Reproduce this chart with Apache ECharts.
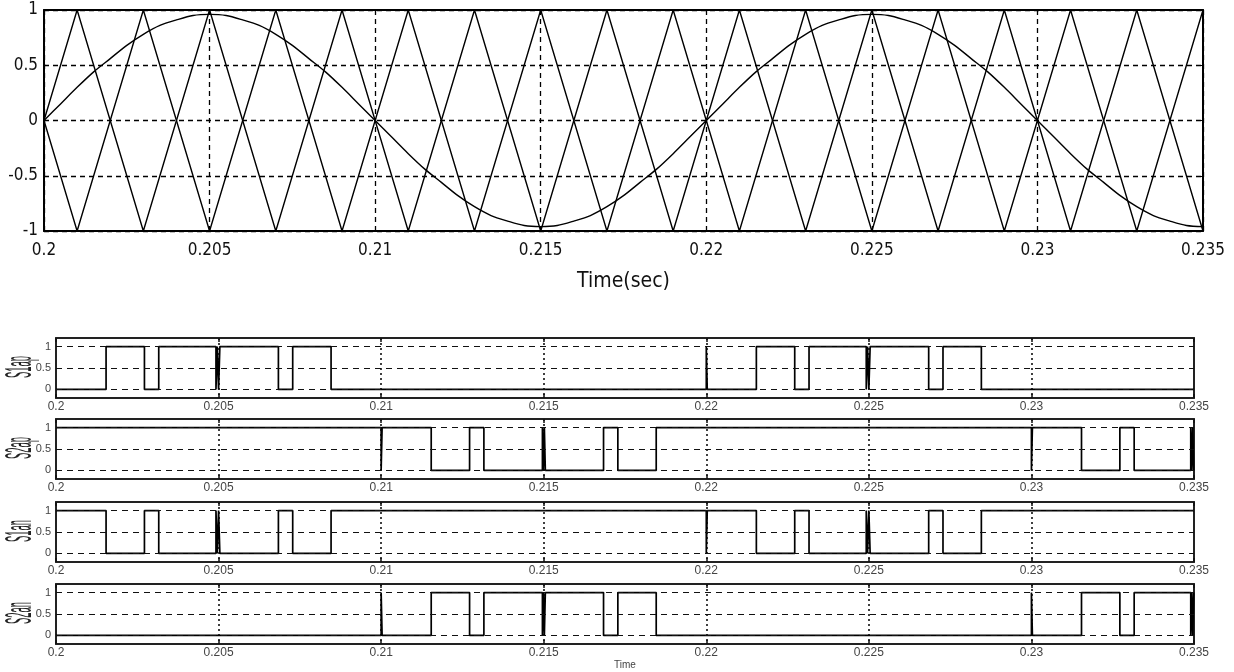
<!DOCTYPE html>
<html>
<head>
<meta charset="utf-8">
<script src="https://cdn.jsdelivr.net/npm/echarts@6/dist/echarts.min.js"></script>
<style>
html,body{margin:0;padding:0;background:#fff;}
#c{width:1234px;height:672px;}
</style>
</head>
<body>
<div id="c"></div>
<script>
// ---------- DATA ----------
// Top plot: carrier triangles (vertices) and reference sine
const triT = [0.200,0.201,0.203,0.205,0.207,0.209,0.211,0.213,0.215,0.217,0.219,0.221,0.223,0.225,0.227,0.229,0.231,0.233,0.235];
const triA = [0,1,-1,1,-1,1,-1,1,-1,1,-1,1,-1,1,-1,1,-1,1,-1];
const triB = [0,-1,1,-1,1,-1,1,-1,1,-1,1,-1,1,-1,1,-1,1,-1,1];

const sineT = [0.2000,0.2005,0.2010,0.2015,0.2020,0.2025,0.2030,0.2035,0.2040,0.2045,0.2050,0.2055,0.2060,0.2065,0.2070,0.2075,0.2080,0.2085,0.2090,0.2095,
  0.2100,0.2105,0.2110,0.2115,0.2120,0.2125,0.2130,0.2135,0.2140,0.2145,0.2150,0.2155,0.2160,0.2165,0.2170,0.2175,0.2180,0.2185,0.2190,0.2195,
  0.2200,0.2205,0.2210,0.2215,0.2220,0.2225,0.2230,0.2235,0.2240,0.2245,0.2250,0.2255,0.2260,0.2265,0.2270,0.2275,0.2280,0.2285,0.2290,0.2295,
  0.2300,0.2305,0.2310,0.2315,0.2320,0.2325,0.2330,0.2335,0.2340,0.2345,0.2350];
const sineV = [0,0.15,0.30,0.44,0.56,0.68,0.78,0.86,0.91,0.95,0.96,0.95,0.91,0.86,0.78,0.68,0.56,0.44,0.30,0.15,
  0,-0.15,-0.30,-0.44,-0.56,-0.68,-0.78,-0.86,-0.91,-0.95,-0.96,-0.95,-0.91,-0.86,-0.78,-0.68,-0.56,-0.44,-0.30,-0.15,
  0,0.15,0.30,0.44,0.56,0.68,0.78,0.86,0.91,0.95,0.96,0.95,0.91,0.86,0.78,0.68,0.56,0.44,0.30,0.15,
  0,-0.15,-0.30,-0.44,-0.56,-0.68,-0.78,-0.86,-0.91,-0.95,-0.96];

// Switching signals: switching instants and the level held from each instant
const s1apEdges = [0.2,0.20154,0.20272,0.20316,0.20492,0.20496,0.20500,0.20504,0.20508,0.20684,0.20728,0.20846,0.22000,0.22003,0.22154,0.22272,0.22316,0.22492,0.22496,0.22500,0.22504,0.22508,0.22684,0.22728,0.22846,0.235];
const s1apLevels= [0,1,0,1,0,1,0,1,1,0,1,0,1,0,1,0,1,0,1,0,1,1,0,1,0,0];

const s2apEdges = [0.2,0.21000,0.21003,0.21154,0.21272,0.21316,0.21496,0.21499,0.21502,0.21505,0.21684,0.21728,0.21846,0.23000,0.23003,0.23154,0.23272,0.23316,0.23490,0.23493,0.23496,0.23499,0.235];
const s2apLevels= [1,0,1,0,1,0,1,0,1,0,1,0,1,0,1,0,1,0,1,0,1,0,0];

const s1anEdges = [0.2,0.20154,0.20272,0.20316,0.20492,0.20496,0.20500,0.20504,0.20508,0.20684,0.20728,0.20846,0.22000,0.22003,0.22154,0.22272,0.22316,0.22492,0.22496,0.22500,0.22504,0.22508,0.22684,0.22728,0.22846,0.235];
const s1anLevels= [1,0,1,0,1,0,1,0,0,1,0,1,0,1,0,1,0,1,0,1,0,0,1,0,1,1];

const s2anEdges = [0.2,0.21000,0.21003,0.21154,0.21272,0.21316,0.21496,0.21499,0.21502,0.21505,0.21684,0.21728,0.21846,0.23000,0.23003,0.23154,0.23272,0.23316,0.23490,0.23493,0.23496,0.23499,0.235];
const s2anLevels= [0,1,0,1,0,1,0,1,0,1,0,1,0,1,0,1,0,1,0,1,0,1,1];

const panelNames = ['S1ap','S2ap','S1an','S2an'];
const gridLevels = [0, 0.5, 1];
const topXName = 'Time(sec)';
const bottomXName = 'Time';

// ---------- CHART ----------
const chart = echarts.init(document.getElementById('c'), null, {renderer:'canvas'});
const narrow = "'Liberation Sans Narrow','Arial Narrow','DejaVu Sans Condensed',sans-serif";
const sans = "'Liberation Sans',Arial,sans-serif";
const fmtX = v => String(+v.toFixed(3));
const fmtY = v => String(+v.toFixed(2));
const zip = (a,b) => a.map((x,i)=>[x,b[i]]);

const grids = [{left:44, right:31, top:10, height:221}];
const lowerTops = [338, 419, 502, 584];
lowerTops.forEach(t => grids.push({left:56, right:40, top:t, height:60}));

const xAxes = [], yAxes = [], series = [];
// top plot axes
xAxes.push({type:'value', gridIndex:0, min:0.2, max:0.235, interval:0.005,
  axisLine:{onZero:false, lineStyle:{color:'#000', width:2}},
  axisTick:{inside:true, length:5, lineStyle:{color:'#000'}},
  axisLabel:{formatter:fmtX, color:'#111', fontFamily:narrow, fontSize:17, margin:11},
  splitLine:{show:true, lineStyle:{color:'#000', type:[5,4], width:1.3}},
  name:topXName, nameLocation:'middle', nameGap:40,
  nameTextStyle:{fontFamily:narrow, fontSize:21, color:'#111'}});
xAxes.push({type:'value', gridIndex:0, position:'top', min:0.2, max:0.235, interval:0.005,
  axisLine:{onZero:false, lineStyle:{color:'#000', width:2}},
  axisTick:{inside:true, length:5, lineStyle:{color:'#000'}},
  axisLabel:{show:false}, splitLine:{show:false}});
yAxes.push({type:'value', gridIndex:0, min:-1, max:1, interval:0.5,
  axisLine:{show:true, onZero:false, lineStyle:{color:'#000', width:2}},
  axisTick:{show:true, inside:true, length:5, lineStyle:{color:'#000'}},
  axisLabel:{formatter:fmtY, color:'#111', fontFamily:narrow, fontSize:17, margin:6},
  splitLine:{show:true, lineStyle:{color:'#000', type:[5,4], width:1.3}}});
yAxes.push({type:'value', gridIndex:0, position:'right', min:-1, max:1, interval:0.5,
  axisLine:{show:true, onZero:false, lineStyle:{color:'#000', width:2}},
  axisTick:{show:true, inside:true, length:5, lineStyle:{color:'#000'}},
  axisLabel:{show:false}, splitLine:{show:false}});

const lineStyleTop = {color:'#000', width:1.4};
series.push({type:'line', xAxisIndex:0, yAxisIndex:0, data:zip(triT,triA), symbol:'none', lineStyle:lineStyleTop, silent:true, animation:false});
series.push({type:'line', xAxisIndex:0, yAxisIndex:0, data:zip(triT,triB), symbol:'none', lineStyle:lineStyleTop, silent:true, animation:false});
series.push({type:'line', xAxisIndex:0, yAxisIndex:0, data:zip(sineT,sineV), symbol:'none', smooth:0.3, lineStyle:lineStyleTop, silent:true, animation:false});

const sigs = [[s1apEdges,s1apLevels],[s2apEdges,s2apLevels],[s1anEdges,s1anLevels],[s2anEdges,s2anLevels]];
sigs.forEach((sg, i) => {
  const gi = i + 1;
  const xb = xAxes.length, yb = yAxes.length;
  xAxes.push({type:'value', gridIndex:gi, min:0.2, max:0.235, interval:0.005,
    axisLine:{onZero:false, lineStyle:{color:'#222', width:2}},
    axisTick:{inside:true, length:4, lineStyle:{color:'#111', width:1.5}},
    axisLabel:{formatter:fmtX, color:'#444', fontFamily:sans, fontSize:12, margin:3},
    splitLine:{show:true, lineStyle:{color:'#111', type:[2,3], width:1.6}},
    name: i === 3 ? bottomXName : '', nameLocation:'middle', nameGap:16,
    nameTextStyle:{fontFamily:sans, fontSize:10, color:'#444'}});
  xAxes.push({type:'value', gridIndex:gi, position:'top', min:0.2, max:0.235, interval:0.005,
    axisLine:{onZero:false, lineStyle:{color:'#222', width:2}},
    axisTick:{inside:true, length:4, lineStyle:{color:'#111', width:1.5}},
    axisLabel:{show:false}, splitLine:{show:false}});
  yAxes.push({type:'value', gridIndex:gi, min:-0.2, max:1.2,
    axisLine:{show:true, onZero:false, lineStyle:{color:'#222', width:2}},
    axisTick:{show:true, inside:true, length:4, customValues:gridLevels, lineStyle:{color:'#111'}},
    axisLabel:{customValues:gridLevels, formatter:fmtY, color:'#444', fontFamily:sans, fontSize:11, margin:5},
    splitLine:{show:false}});
  yAxes.push({type:'value', gridIndex:gi, position:'right', min:-0.2, max:1.2,
    axisLine:{show:true, onZero:false, lineStyle:{color:'#222', width:2}},
    axisTick:{show:true, inside:true, length:4, customValues:gridLevels, lineStyle:{color:'#111'}},
    axisLabel:{show:false}, splitLine:{show:false}});
  series.push({type:'line', xAxisIndex:xb, yAxisIndex:yb, step:'end', data:zip(sg[0], sg[1]),
    symbol:'none', lineStyle:{color:'#000', width:1.7}, silent:true, animation:false,
    markLine:{silent:true, symbol:'none', animation:false, label:{show:false},
      lineStyle:{color:'#111', type:[6,5], width:1.2},
      data: gridLevels.map(v => ({yAxis:v}))}});
});

const graphics = panelNames.map((nm, i) => ({
  type:'text', x:21, y:lowerTops[i] + 29, rotation:Math.PI/2, scaleX:0.26, scaleY:1,
  silent:true,
  style:{text:nm, fontFamily:sans, fontSize:36, fill:'#222', align:'center', verticalAlign:'middle'}
}));

chart.setOption({
  animation:false,
  backgroundColor:'#fff',
  grid:grids, xAxis:xAxes, yAxis:yAxes, series:series, graphic:graphics
});
</script>
</body>
</html>
